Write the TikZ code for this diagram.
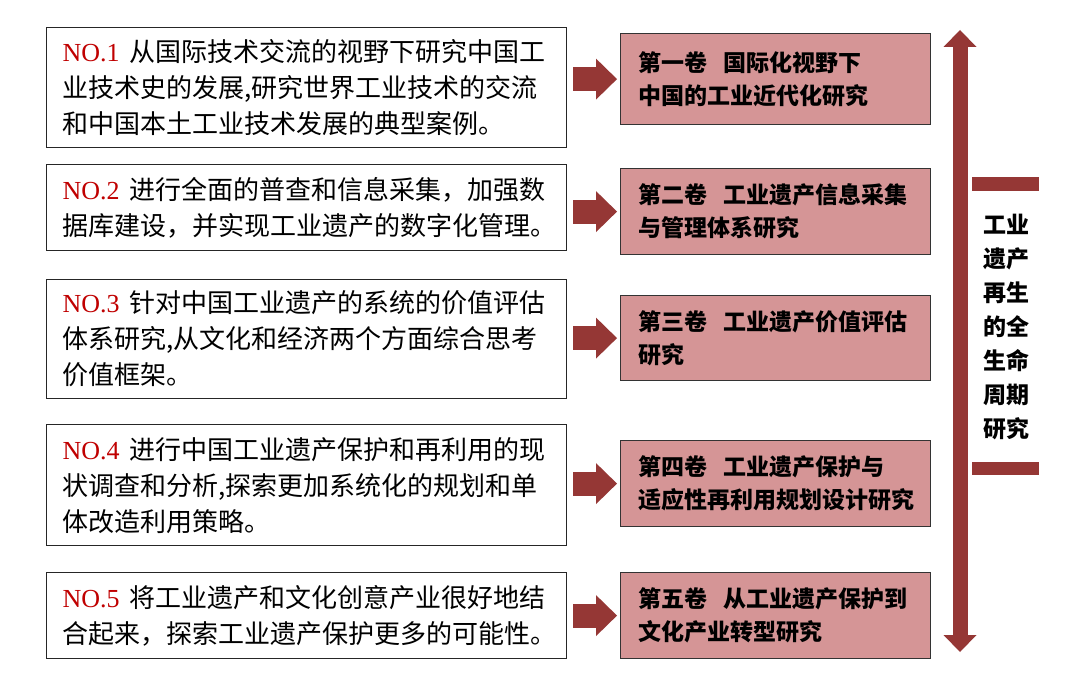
\documentclass[tikz,border=0pt]{standalone}
\usepackage{fontspec}
\setmainfont{Noto Sans CJK SC}
\newfontfamily\numfont{Liberation Serif}
\usepackage{tikz}
\usetikzlibrary{arrows.meta,backgrounds}
\definecolor{darkred}{HTML}{953735}
\definecolor{rosefill}{HTML}{D59596}
\definecolor{numred}{HTML}{C00000}
\newcommand{\numlabel}[1]{{\numfont\color{numred}NO.#1}\hspace{10pt}}
\newcommand{\volgap}{\hspace{0.7em}}

\begin{document}
\begin{tikzpicture}[x=1pt,y=-1pt,
taskbox/.style={draw=black!85,line width=1.3pt,anchor=north west,minimum width=520pt,text width=488pt,inner xsep=16pt,inner ysep=0pt,align=left,font=\fontsize{26}{36}\selectfont},
volbox/.style={draw=black!80,line width=1.2pt,fill=rosefill,anchor=north west,minimum width=310pt,text width=274pt,inner xsep=18pt,inner ysep=0pt,align=left,font=\bfseries\fontsize{23}{33}\selectfont},
blockarrow/.style={draw=darkred,line width=24pt,-{Triangle[length=21pt,width=41pt,line width=0pt]},shorten <=6pt,shorten >=3pt}]
\fill[white] (0,0) rectangle (1080,682);
\useasboundingbox (0,0) rectangle (1080,682);

\node[taskbox,minimum height=120pt] (no1) at (46,27) {\numlabel{1}从国际技术交流的视野下研究中国工\\业技术史的发展,研究世界工业技术的交流\\和中国本土工业技术发展的典型案例。};
\node[taskbox,minimum height=86pt] (no2) at (46,164) {\numlabel{2}进行全面的普查和信息采集，加强数\\据库建设，并实现工业遗产的数字化管理。};
\node[taskbox,minimum height=119pt] (no3) at (46,279) {\numlabel{3}针对中国工业遗产的系统的价值评估\\体系研究,从文化和经济两个方面综合思考\\价值框架。};
\node[taskbox,minimum height=121pt] (no4) at (46,424) {\numlabel{4}进行中国工业遗产保护和再利用的现\\状调查和分析,探索更加系统化的规划和单\\体改造利用策略。};
\node[taskbox,minimum height=86pt] (no5) at (46,572) {\numlabel{5}将工业遗产和文化创意产业很好地结\\合起来，探索工业遗产保护更多的可能性。};

\node[volbox,minimum height=91pt] (vol1) at (620,33) {第一卷\volgap 国际化视野下\\中国的工业近代化研究};
\node[volbox,minimum height=86pt] (vol2) at (620,168) {第二卷\volgap 工业遗产信息采集\\与管理体系研究};
\node[volbox,minimum height=85pt] (vol3) at (620,295) {第三卷\volgap 工业遗产价值评估\\研究};
\node[volbox,minimum height=86pt] (vol4) at (620,440) {第四卷\volgap 工业遗产保护与\\适应性再利用规划设计研究};
\node[volbox,minimum height=86pt] (vol5) at (620,572) {第五卷\volgap 从工业遗产保护到\\文化产业转型研究};

\draw[blockarrow] (no1.east |- vol1.west) -- (vol1.west);
\draw[blockarrow] (no2.east |- vol2.west) -- (vol2.west);
\draw[blockarrow] (no3.east |- vol3.west) -- (vol3.west);
\draw[blockarrow] (no4.east |- vol4.west) -- (vol4.west);
\draw[blockarrow] (no5.east |- vol5.west) -- (vol5.west);

\coordinate (lifetop) at (960,30);
\coordinate (lifebottom) at (960,652);
\draw[darkred,line width=15pt,{Triangle[length=17pt,width=33pt,line width=0pt]}-{Triangle[length=17pt,width=33pt,line width=0pt]}] (lifetop) -- (lifebottom);
\fill[darkred] (972,177) rectangle (1039,191);
\fill[darkred] (972,462) rectangle (1039,475);
\node[align=center,font=\bfseries\fontsize{23}{34}\selectfont] (lifecycle) at (1006,327) {工业\\遗产\\再生\\的全\\生命\\周期\\研究};
\end{tikzpicture}
\end{document}
